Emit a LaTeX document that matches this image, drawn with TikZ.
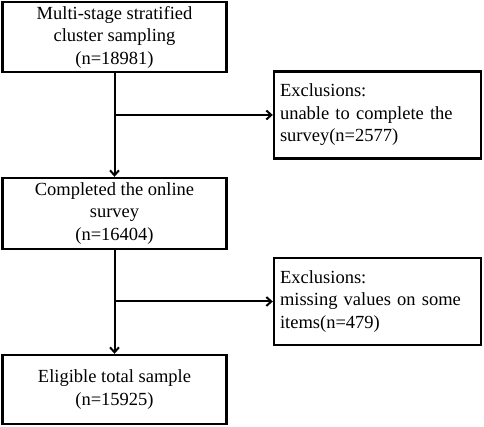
\documentclass[tikz,border=0pt]{standalone}
\usepackage{fontspec}
\setmainfont{Liberation Serif}
\usetikzlibrary{arrows.meta}
\begin{document}
\begin{tikzpicture}[x=1pt,y=-1pt,
  box/.style={draw=black,line width=2.4pt,inner sep=0pt,align=center,
    font=\fontsize{18.5}{22.5}\selectfont},
  exbox/.style={draw=black,line width=2.4pt,inner xsep=6pt,inner ysep=0pt,align=left,
    font=\fontsize{18.5}{22.5}\selectfont},
  conn/.style={line width=2pt,-{Straight Barb[length=5pt,width=9pt,line width=2pt]}}]
\useasboundingbox (0,0) rectangle (484,427);
\node[box,minimum width=224pt,minimum height=70pt] (b1) at (114.5,37)
  {Multi-stage stratified\\cluster sampling\\(n=18981)};
\node[exbox,minimum width=207pt,minimum height=87pt,text width=195pt] (e1) at (377.5,115)
  {Exclusions:\\unable to complete the\\survey(n=2577)};
\node[box,minimum width=224pt,minimum height=71pt] (b2) at (114.5,213.5)
  {Completed the online\\survey\\(n=16404)};
\node[exbox,minimum width=207pt,minimum height=87pt,text width=195pt] (e2) at (377.5,301.5)
  {Exclusions:\\missing values on some\\items(n=479)};
\node[box,minimum width=224pt,minimum height=69pt] (b3) at (114.5,389.5)
  {Eligible total sample\\(n=15925)};
\draw[conn] (b1.south) -- (b2.north);
\draw[conn] (b1.south |- e1.west) -- (e1.west);
\draw[conn] (b2.south) -- (b3.north);
\draw[conn] (b2.south |- e2.west) -- (e2.west);
\end{tikzpicture}
\end{document}
